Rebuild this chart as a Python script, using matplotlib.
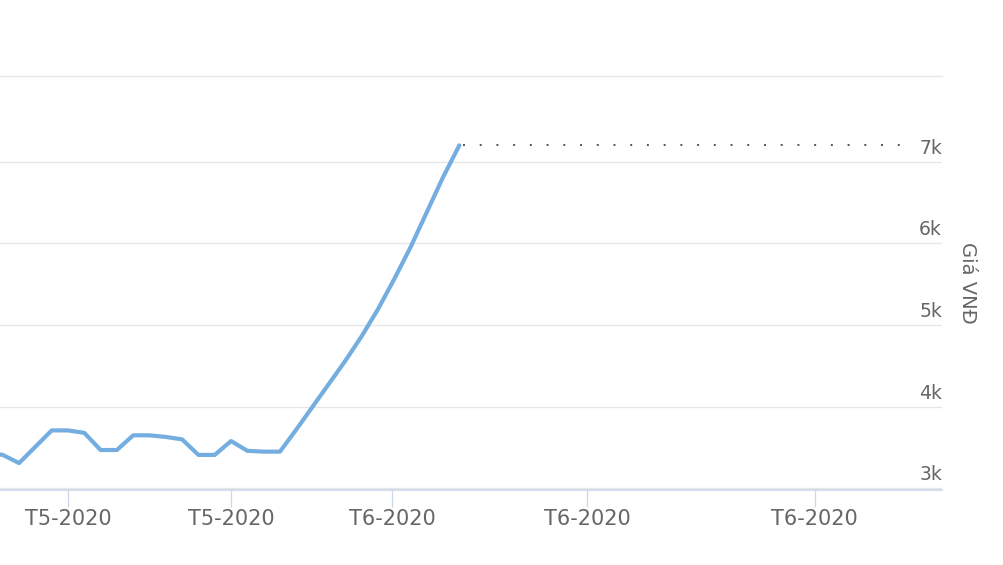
import matplotlib
matplotlib.use('Agg')
import matplotlib.pyplot as plt
import matplotlib.transforms as mtransforms

plt.rcParams.update({'font.family': ['DejaVu Sans']})

# price series (thousand VND), one point per trading session
days = list(range(-1, 29))
price = [3.44, 3.41, 3.31, 3.51, 3.71, 3.71, 3.68, 3.47, 3.47, 3.65,
         3.65, 3.63, 3.60, 3.41, 3.41, 3.58, 3.46, 3.45, 3.45, 3.72,
         4.00, 4.28, 4.56, 4.86, 5.19, 5.56, 5.95, 6.38, 6.81, 7.20]

x_ticks = [4, 14, 23.9, 35.85, 49.8]
x_labels = ['T5-2020', 'T5-2020', 'T6-2020', 'T6-2020', 'T6-2020']
y_ticks = [3, 4, 5, 6, 7]
y_labels = ['3k', '4k', '5k', '6k', '7k']
axis_title = 'Giá VNĐ'

txt = '#666666'
grid = '#e6e6e6'
axcol = '#ccd6eb'
line = '#74aee0'

fig = plt.figure(figsize=(10.04, 5.65), dpi=100)
ax = fig.add_axes([0, 0.1327, 0.9382, 0.7328])

ax.set_xlim(-0.17, 57.6)
ax.set_ylim(2.98, 8.05)

for v in y_ticks:
    ax.axhline(v, color=grid, lw=0.9, zorder=1)

ax.plot(days, price, color=line, lw=3, solid_joinstyle='round',
        solid_capstyle='round', zorder=3)

# last price dotted marker
ax.hlines(price[-1], days[-1] + 0.25, 55.3, colors='#555555', lw=1.4,
          linestyles=(0, (1, 7.6)), zorder=2)

for s in ['left', 'right']:
    ax.spines[s].set_visible(False)
ax.spines['top'].set_color(grid)
ax.spines['top'].set_linewidth(0.9)
ax.spines['bottom'].set_color(axcol)
ax.spines['bottom'].set_linewidth(1.2)

ax.set_yticks([])
ax.set_xticks(x_ticks)
ax.set_xticklabels(x_labels, fontsize=15, color=txt)
ax.tick_params(axis='x', length=12, width=0.9, color=axcol, pad=2)

trans = mtransforms.offset_copy(ax.get_yaxis_transform(), fig=fig, x=0, y=4, units='dots')
for v, lab in zip(y_ticks, y_labels):
    ax.text(1.0, v, lab, transform=trans, ha='right', va='bottom',
            fontsize=13.5, color=txt)

fig.text(968 / 1004, 1 - 283 / 565, axis_title, rotation=270, ha='center',
         va='center', fontsize=14, color=txt)

fig.savefig('out.png', dpi=100)
